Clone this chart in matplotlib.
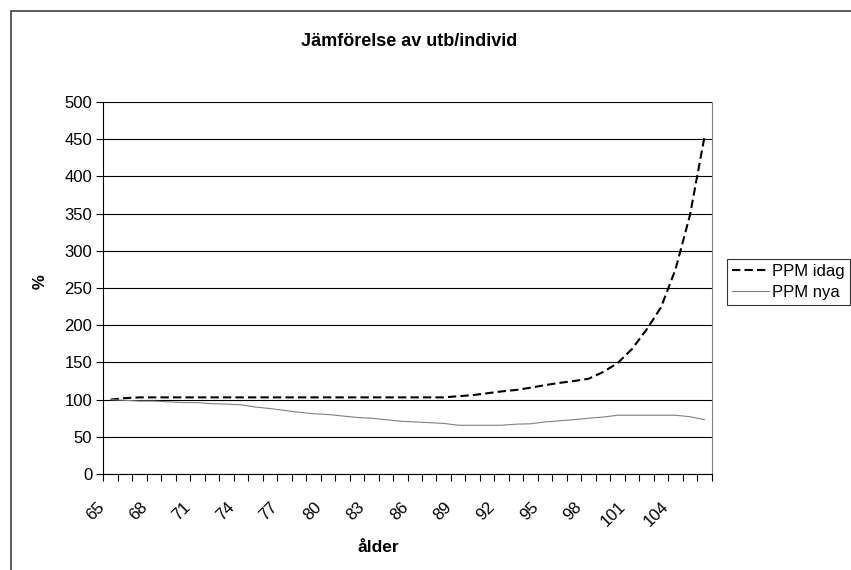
import matplotlib
matplotlib.use("Agg")
import matplotlib.pyplot as plt
from matplotlib.patches import Rectangle
from matplotlib.transforms import ScaledTranslation
import numpy as np

plt.rcParams['font.family'] = ['Liberation Sans', 'DejaVu Sans']

# data
ages = list(range(65, 107))
ppm_idag = [100, 102, 103, 103, 103, 103, 103, 103, 103, 103,
            103, 103, 103, 103, 103, 103, 103, 103, 103, 103,
            103, 103, 103, 103, 104.5, 106, 108.5, 111, 113, 116,
            119.5, 122.5, 125, 128, 137, 149, 168, 194, 224, 275,
            348, 453]
ppm_nya = [100, 99, 98, 98, 97, 96, 96, 94.5, 94, 93,
           90, 88, 85.5, 83, 81, 80, 78, 76, 75, 73,
           71, 70, 69, 68, 65.5, 65.5, 65.5, 65.5, 67, 67.5,
           70, 71.5, 73, 75, 76.5, 79, 79, 79, 79, 79,
           77, 73]
label_ages = list(range(65, 105, 3))

W, H = 851, 570
fig = plt.figure(figsize=(W / 100, H / 100), dpi=100)
ax = fig.add_axes([103.3 / W, 1 - 474 / H, (711.7 - 103.3) / W, (474 - 102) / H])

x = np.arange(len(ages))
l1, = ax.plot(x, ppm_idag, color='black', lw=1.5, linestyle=(0, (4, 2)), label='PPM idag')
l2, = ax.plot(x, ppm_nya, color='#808080', lw=0.8, label='PPM nya')

ax.set_xlim(-0.5, len(ages) - 0.5)
ax.set_ylim(0, 500)
ax.set_yticks(np.arange(0, 501, 50))
ax.yaxis.grid(True, color='black', lw=0.8)
ax.set_axisbelow(True)
ax.tick_params(axis='y', direction='out', length=5, width=0.8, labelsize=12, pad=3)

# tick marks between categories, labels at centres
ax.set_xticks(np.arange(-0.5, len(ages), 1), minor=True)
lab_pos = [ages.index(a) for a in label_ages]
ax.set_xticks(lab_pos)
ax.set_xticklabels([str(a) for a in label_ages], rotation=45, ha='right',
                   va='center', rotation_mode='anchor', fontsize=12)
ax.tick_params(axis='x', which='major', length=0, pad=22)
ax.tick_params(axis='x', which='minor', direction='out', length=5, width=0.8)
shift = ScaledTranslation(-9 / 100, 0, fig.dpi_scale_trans)
for t in ax.get_xticklabels():
    t.set_transform(t.get_transform() + shift)

for s in ['left', 'bottom']:
    ax.spines[s].set_color('black')
    ax.spines[s].set_linewidth(0.8)
ax.spines['top'].set_visible(False)
ax.spines['right'].set_color('#808080')
ax.spines['right'].set_linewidth(0.8)

fig.text(409.5 / W, 1 - 42 / H, 'Jämförelse av utb/individ', ha='center', va='center',
         fontsize=13, fontweight='bold')
fig.text(40 / W, 1 - 282 / H, '%', ha='center', va='center', rotation=90,
         fontsize=12, fontweight='bold')
fig.text(378 / W, 1 - 547 / H, 'ålder', ha='center', va='center',
         fontsize=12.5, fontweight='bold')

leg = fig.legend(handles=[l1, l2], loc='upper left', bbox_to_anchor=(727 / W, 1 - 259 / H),
                 fontsize=12, frameon=True, fancybox=False, handlelength=2.2,
                 handletextpad=0.2, borderpad=0.3, labelspacing=0.35, borderaxespad=0)
leg.get_frame().set_edgecolor('black')
leg.get_frame().set_linewidth(0.8)

# outer chart border
fig.patches.append(Rectangle((10.5 / W, -0.1), 1.0, 1 - 11 / H + 0.1,
                             transform=fig.transFigure, fill=False,
                             edgecolor='#404040', lw=1.2))

fig.savefig('out.png', dpi=100)
